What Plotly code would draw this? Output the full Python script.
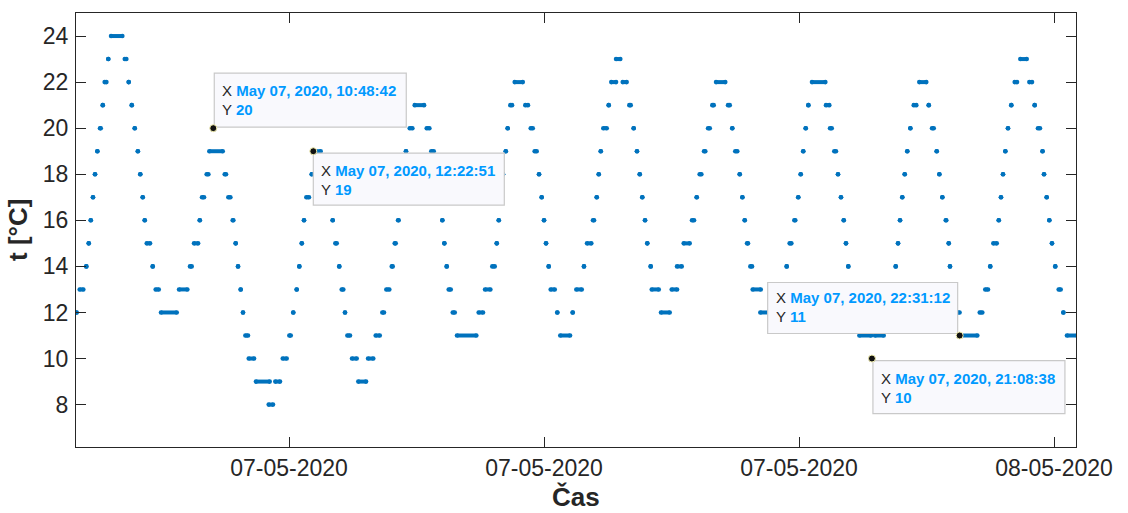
import pandas as pd
import plotly.graph_objects as go

# ---- data: runs of equal readings (minutes after 00:00, 7 May 2020) ----
run_start_min = [
    520.0, 523.0, 529.2, 531.5, 533.4, 535.5, 537.4, 539.6, 542.1, 544.7,
    546.5, 549.9, 552.5, 565.4, 569.1, 572.0, 574.8, 577.7, 580.0, 582.3,
    584.2, 586.1, 591.7, 594.5, 599.5, 616.5, 626.8, 630.6, 636.0, 638.1,
    642.5, 645.0, 648.7, 659.5, 662.9, 667.0, 669.8, 672.0, 674.5, 676.7,
    678.9, 682.1, 688.9, 700.9, 707.1, 714.1, 720.3, 724.0, 727.2, 729.7,
    732.0, 734.1, 736.3, 741.4, 742.85, 753.5, 757.0, 761.1, 763.6, 767.3,
    769.6, 772.7, 774.9, 779.3, 785.2, 794.4, 801.6, 807.8, 811.6, 816.7,
    819.5, 822.6, 826.4, 828.2, 830.1, 833.6, 838.3, 849.6, 853.9, 859.8,
    862.1, 864.3, 866.2, 868.4, 870.3, 874.1, 878.1, 898.5, 904.5, 911.3,
    915.5, 917.4, 919.5, 921.4, 924.0, 925.8, 928.3, 932.4, 942.4, 947.5,
    951.2, 955.3, 957.8, 960.0, 961.9, 964.4, 966.3, 972.5, 975.3, 987.0,
    990.4, 997.6, 1000.5, 1006.1, 1009.6, 1011.5, 1013.4, 1015.8, 1020.9, 1023.3,
    1027.8, 1034.1, 1040.3, 1044.4, 1047.5, 1050.1, 1052.5, 1055.1, 1057.2, 1060.4,
    1061.4, 1070.1, 1080.2, 1085.2, 1091.5, 1099.3, 1103.7, 1106.5, 1110.6, 1114.4,
    1118.4, 1121.9, 1133.2, 1137.2, 1140.0, 1144.2, 1146.7, 1148.9, 1151.1, 1154.2,
    1156.4, 1163.6, 1184.0, 1188.4, 1191.2, 1195.6, 1199.3, 1201.6, 1204.0, 1206.3,
    1208.8, 1212.2, 1225.4, 1229.2, 1233.2, 1236.7, 1239.5, 1242.1, 1244.2, 1246.4,
    1249.4, 1252.2, 1256.8, 1268.63, 1271.5, 1283.8, 1288.0, 1291.0, 1293.2, 1295.1,
    1297.2, 1299.5, 1301.9, 1304.8, 1308.0, 1313.2, 1322.1, 1325.2, 1329.6, 1332.1,
    1334.9, 1338.1, 1340.9, 1342.1, 1344.9, 1348.7, 1351.2, 1370.1, 1375.3, 1380.0,
    1382.9, 1388.0, 1390.1, 1392.0, 1394.2, 1396.7, 1399.8, 1403.0, 1408.3, 1416.8,
    1421.8, 1424.9, 1429.2, 1430.6, 1433.1, 1435.6, 1438.1, 1441.2, 1444.4, 1448.8,
    1452.2,
]
run_end_min = [
    520.0, 526.4, 529.2, 531.5, 533.4, 535.5, 537.4, 539.6, 542.8, 544.7,
    548.1, 549.9, 563.1, 566.9, 569.1, 572.0, 574.8, 577.7, 580.0, 582.3,
    584.2, 589.2, 591.7, 597.4, 614.3, 624.3, 628.4, 634.4, 636.0, 640.0,
    644.1, 657.6, 648.7, 660.7, 664.8, 667.6, 669.8, 672.0, 674.5, 676.7,
    681.4, 687.1, 701.8, 704.9, 711.5, 717.8, 721.6, 724.0, 727.2, 729.7,
    732.0, 734.1, 738.8, 741.4, 749.8, 755.0, 758.5, 761.1, 764.9, 767.3,
    771.1, 772.7, 777.4, 783.7, 792.5, 799.3, 805.4, 809.4, 814.4, 817.6,
    820.4, 823.2, 826.4, 828.2, 830.1, 836.1, 847.1, 852.1, 856.2, 859.8,
    862.1, 864.3, 866.2, 868.4, 872.2, 876.0, 896.3, 902.6, 909.5, 913.6,
    915.5, 917.4, 919.5, 921.4, 924.0, 925.8, 929.9, 940.0, 944.9, 949.4,
    953.1, 955.3, 957.8, 960.0, 961.9, 964.4, 970.1, 972.5, 984.5, 987.0,
    995.5, 997.6, 1004.5, 1007.1, 1009.6, 1011.5, 1013.4, 1019.0, 1020.9, 1027.8,
    1031.8, 1037.8, 1041.6, 1044.4, 1047.5, 1050.1, 1052.5, 1055.1, 1057.2, 1060.4,
    1068.0, 1078.3, 1085.2, 1089.6, 1097.1, 1101.2, 1103.7, 1108.1, 1111.8, 1116.0,
    1119.7, 1130.6, 1134.8, 1137.2, 1141.9, 1144.2, 1146.7, 1148.9, 1152.0, 1155.8,
    1164.0, 1182.1, 1185.9, 1188.4, 1192.8, 1196.5, 1199.3, 1201.6, 1204.0, 1206.3,
    1208.8, 1224.8, 1228.5, 1230.8, 1234.8, 1236.7, 1239.5, 1242.1, 1244.2, 1246.4,
    1249.4, 1252.2, 1267.8, 1268.63, 1279.7, 1285.6, 1288.0, 1291.0, 1293.2, 1295.1,
    1297.2, 1299.5, 1301.9, 1304.8, 1310.4, 1319.8, 1322.1, 1326.8, 1329.6, 1332.1,
    1334.9, 1338.6, 1340.9, 1342.1, 1344.9, 1351.1, 1367.8, 1372.5, 1377.9, 1380.0,
    1386.1, 1388.0, 1390.1, 1392.0, 1394.2, 1396.7, 1399.8, 1405.2, 1414.3, 1419.3,
    1421.8, 1426.8, 1429.2, 1430.6, 1433.1, 1435.6, 1438.1, 1441.2, 1446.3, 1448.8,
    1462.0,
]
run_temp = [
    12, 13, 14, 15, 16, 17, 18, 19, 20, 21,
    22, 23, 24, 23, 22, 21, 20, 19, 18, 17,
    16, 15, 14, 13, 12, 13, 14, 15, 16, 17,
    18, 19, 20, 18, 17, 16, 15, 14, 13, 12,
    11, 10, 9, 8, 9, 10, 11, 12, 13, 14,
    15, 16, 17, 18, 19, 18, 17, 16, 15, 14,
    13, 12, 11, 10, 9, 10, 11, 12, 13, 14,
    15, 16, 17, 18, 19, 20, 21, 20, 19, 18,
    17, 16, 15, 14, 13, 12, 11, 12, 13, 14,
    15, 16, 17, 18, 19, 20, 21, 22, 21, 20,
    19, 18, 17, 16, 15, 14, 13, 12, 11, 12,
    13, 14, 15, 16, 17, 18, 19, 20, 21, 22,
    23, 22, 21, 20, 19, 18, 17, 16, 15, 14,
    13, 12, 13, 14, 15, 16, 17, 18, 19, 20,
    21, 22, 21, 20, 19, 18, 17, 16, 15, 14,
    13, 12, 13, 14, 15, 16, 17, 18, 19, 20,
    21, 22, 21, 20, 19, 18, 17, 16, 15, 14,
    13, 12, 11, 10, 11, 12, 13, 14, 15, 16,
    17, 18, 19, 20, 21, 22, 21, 20, 19, 18,
    17, 16, 15, 14, 13, 12, 11, 12, 13, 14,
    15, 16, 17, 18, 19, 20, 21, 22, 23, 22,
    21, 20, 19, 18, 17, 16, 15, 14, 13, 12,
    11,
]

# data tips shown on the chart
tip_time = ["2020-05-07 10:48:42", "2020-05-07 12:22:51",
            "2020-05-07 22:31:12", "2020-05-07 21:08:38"]
tip_temp = [20, 19, 11, 10]

x_tick_format = "%d-%m-%Y"
x_axis_title = "Čas"
y_axis_title = "t [°C]"
y_ticks = [8, 10, 12, 14, 16, 18, 20, 22, 24]

# ---- build ----
BASE = pd.Timestamp("2020-05-07")


def tm(m):
    return BASE + pd.Timedelta(minutes=m)


xs, ys = [], []
for s, e, v in zip(run_start_min, run_end_min, run_temp):
    xs += [tm(s), tm(e), None]
    ys += [v, v, None]

BLUE = "#0072BD"
AX = "#262626"
FONT = "Liberation Sans, Arial, Helvetica, sans-serif"
TIPBLUE = "#0099FF"

fig = go.Figure()
fig.add_trace(go.Scatter(
    x=xs, y=ys, mode="lines+markers",
    line=dict(color=BLUE, width=4),
    marker=dict(color=BLUE, size=4.6),
    hoverinfo="skip", showlegend=False,
))

# data-tip boxes: (box x0, x1, y0, y1 in px relative to the tip point; +y is up)
box_geom = [
    (1, 193, 1, 55),
    (0, 191, -2, -54),
    (-192, -2, 2, 53),
    (1, 193, -2, -55),
]
shapes = []
annotations = []
for (tt, tv), (bx0, bx1, by0, by1) in zip(zip(tip_time, tip_temp), box_geom):
    shapes.append(dict(
        type="rect", layer="above", xref="x", yref="y",
        xsizemode="pixel", ysizemode="pixel", xanchor=tt, yanchor=tv,
        x0=bx0, x1=bx1, y0=by0, y1=by1,
        fillcolor="#F9F9FD", line=dict(color="#C9C9C9", width=1.2),
    ))
    label = pd.Timestamp(tt).strftime("%b %d, %Y, %H:%M:%S")
    txt = (f"X <b><span style='color:{TIPBLUE}'>{label}</span></b><br>"
           f"Y <b><span style='color:{TIPBLUE}'>{tv}</span></b>")
    up = by1 > 0
    annotations.append(dict(
        x=tt, y=tv, xref="x", yref="y", text=txt, showarrow=False,
        xanchor="left", yanchor="bottom" if up else "top",
        xshift=min(bx0, bx1) + 8,
        yshift=(min(by0, by1) + 7) if up else (max(by0, by1) - 7),
        width=178, height=40, align="left", valign="middle",
        borderpad=0, borderwidth=0,
        font=dict(family=FONT, size=15, color="#262626"),
    ))
for tt, tv in zip(tip_time, tip_temp):
    shapes.append(dict(
        type="circle", layer="above", xref="x", yref="y",
        xsizemode="pixel", ysizemode="pixel", xanchor=tt, yanchor=tv,
        x0=-3.5, x1=3.5, y0=-3.5, y1=3.5,
        fillcolor="#111111", line=dict(color="#F3EFB0", width=1),
    ))

# axis titles
annotations.append(dict(
    text=f"<b>{x_axis_title}</b>", xref="paper", yref="paper", x=0.5, y=0,
    xanchor="center", yanchor="bottom", yshift=-66, showarrow=False,
    borderpad=0, font=dict(family=FONT, size=26, color="#262626"),
))
annotations.append(dict(
    text=f"<b>{y_axis_title}</b>", xref="paper", yref="paper", x=0, y=0.5,
    xanchor="center", yanchor="middle", xshift=-58, textangle=-90,
    showarrow=False, font=dict(family=FONT, size=26, color="#262626"),
))

axis_common = dict(
    showline=True, linecolor=AX, linewidth=1, mirror="ticks",
    ticks="inside", ticklen=10, tickwidth=1, tickcolor=AX,
    showgrid=False, zeroline=False,
    tickfont=dict(family=FONT, size=23, color=AX),
)

fig.update_layout(
    width=1128, height=513,
    margin=dict(l=76, r=52, t=13, b=66),
    paper_bgcolor="white", plot_bgcolor="white",
    shapes=shapes, annotations=annotations,
    xaxis=dict(
        type="date", range=[tm(519.5), tm(1460.7)],
        tick0="2020-05-07 00:00:00", dtick=4 * 3600 * 1000,
        tickformat=x_tick_format, ticklabelstandoff=0, **axis_common,
    ),
    yaxis=dict(
        range=[6.16, 25], tickvals=y_ticks, ticklabelstandoff=2,
        **axis_common,
    ),
)

# remove the browser's default 8 px body margin so the figure fills the window
fig.write_html(
    "out.html",
    config={"displayModeBar": False},
    post_script="document.body.style.margin='0';document.body.style.overflow='hidden';",
)
